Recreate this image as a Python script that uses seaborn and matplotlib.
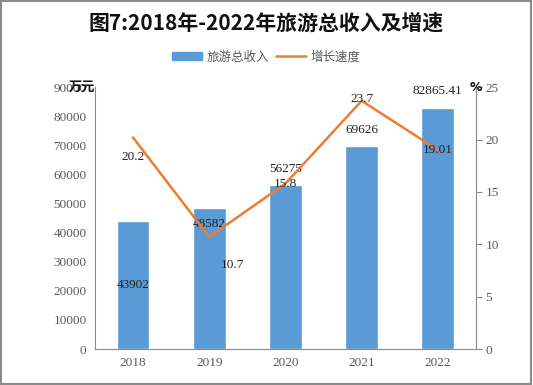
import numpy as np
import pandas as pd
import matplotlib
matplotlib.use('Agg')
import matplotlib.pyplot as plt
import seaborn as sns
from matplotlib.patches import Rectangle
from matplotlib.lines import Line2D

years = ['2018', '2019', '2020', '2021', '2022']
income = [43902, 48582, 56275, 69626, 82865.41]
income_labels = ['43902', '48582', '56275', '69626', '82865.41']
growth = [20.2, 10.7, 15.8, 23.7, 19.01]
growth_labels = ['20.2', '10.7', '15.8', '23.7', '19.01']

# label offsets in points (dx, dy) from the value
income_off = [(0, None), (0, -12), (0, 12), (0, 12), (0, 12)]
growth_off = [(0, -14), (17, -20), (0, 0), (0, 1), (0, 0)]

sns.set_style('white')
plt.rcParams['font.family'] = ['Liberation Serif', 'Noto Sans CJK SC', 'DejaVu Sans']

bar_color = '#5B9BD5'
line_color = '#ED7D31'
grey = '#595959'

df = pd.DataFrame({'year': years, 'income': income, 'growth': growth})

fig = plt.figure(figsize=(5.33, 3.85), dpi=100)
ax = fig.add_axes([0.178, 0.0935, 0.715, 0.68])
sns.barplot(data=df, x='year', y='income', color=bar_color, width=0.43,
            saturation=1, ax=ax)
ax.set_xlim(-0.5, 4.5)
ax.set_ylim(0, 90000)
ax.set_yticks(range(0, 90001, 10000))
ax.set_xlabel('')
ax.set_ylabel('')

ax2 = ax.twinx()
sns.lineplot(x=np.arange(len(years)), y=growth, color=line_color, linewidth=1.8, ax=ax2)
ax2.set_ylim(0, 25)
ax2.set_yticks(range(0, 26, 5))
ax2.set_xlim(-0.5, 4.5)

for a in (ax, ax2):
    for s in a.spines.values():
        s.set_visible(False)
    a.tick_params(labelsize=9.5, labelcolor=grey, colors='#898989')
ax.spines['left'].set_visible(True)
ax.spines['bottom'].set_visible(True)
ax.spines['left'].set_color('#898989')
ax.spines['bottom'].set_color('#898989')
ax2.spines['right'].set_visible(True)
ax2.spines['right'].set_color('#898989')
ax.tick_params(axis='both', length=0, pad=6)
ax2.tick_params(axis='y', length=4, direction='out', pad=3)

for i, (v, t, off) in enumerate(zip(income, income_labels, income_off)):
    if off[1] is None:
        ax.text(i, v / 2, t, ha='center', va='center', fontsize=9.5, color='#222222')
    else:
        ax.annotate(t, (i, v), xytext=off, textcoords='offset points',
                    ha='center', va='center', fontsize=9.5, color='#222222')

for i, (v, t, off) in enumerate(zip(growth, growth_labels, growth_off)):
    ax2.annotate(t, (i, v), xytext=off, textcoords='offset points',
                 ha='center', va='center', fontsize=9.5, color='#222222')

ax.text(0, 1.0, '万元', transform=ax.transAxes, ha='right', va='center',
        fontsize=9.5, fontweight='bold', color='#111111', family='Noto Sans CJK SC')
ax2.text(1.0, 1.0, '%', transform=ax2.transAxes, ha='center', va='center',
         fontsize=9, fontweight='bold', color='#111111', family='DejaVu Sans')

fig.text(0.5, 0.94, '图7:2018年-2022年旅游总收入及增速', ha='center', va='center',
         fontsize=15, fontweight='bold', color='#111111',
         family=['Noto Sans CJK SC', 'DejaVu Sans'])

handles = [Rectangle((0, 0), 1, 1, color=bar_color),
           Line2D([0], [0], color=line_color, linewidth=1.8)]
fig.legend(handles, ['旅游总收入', '增长速度'], loc='center', bbox_to_anchor=(0.5, 0.852),
           ncol=2, frameon=False, handlelength=2.4, handleheight=0.6, columnspacing=0.5,
           handletextpad=0.4, prop={'family': 'Noto Sans CJK SC', 'size': 9},
           labelcolor=grey)

fig.add_artist(Rectangle((0.002, 0.003), 0.995, 0.994, transform=fig.transFigure,
                         fill=False, edgecolor='#8a8a8a', linewidth=1.5))

fig.savefig('out.png', dpi=100)
